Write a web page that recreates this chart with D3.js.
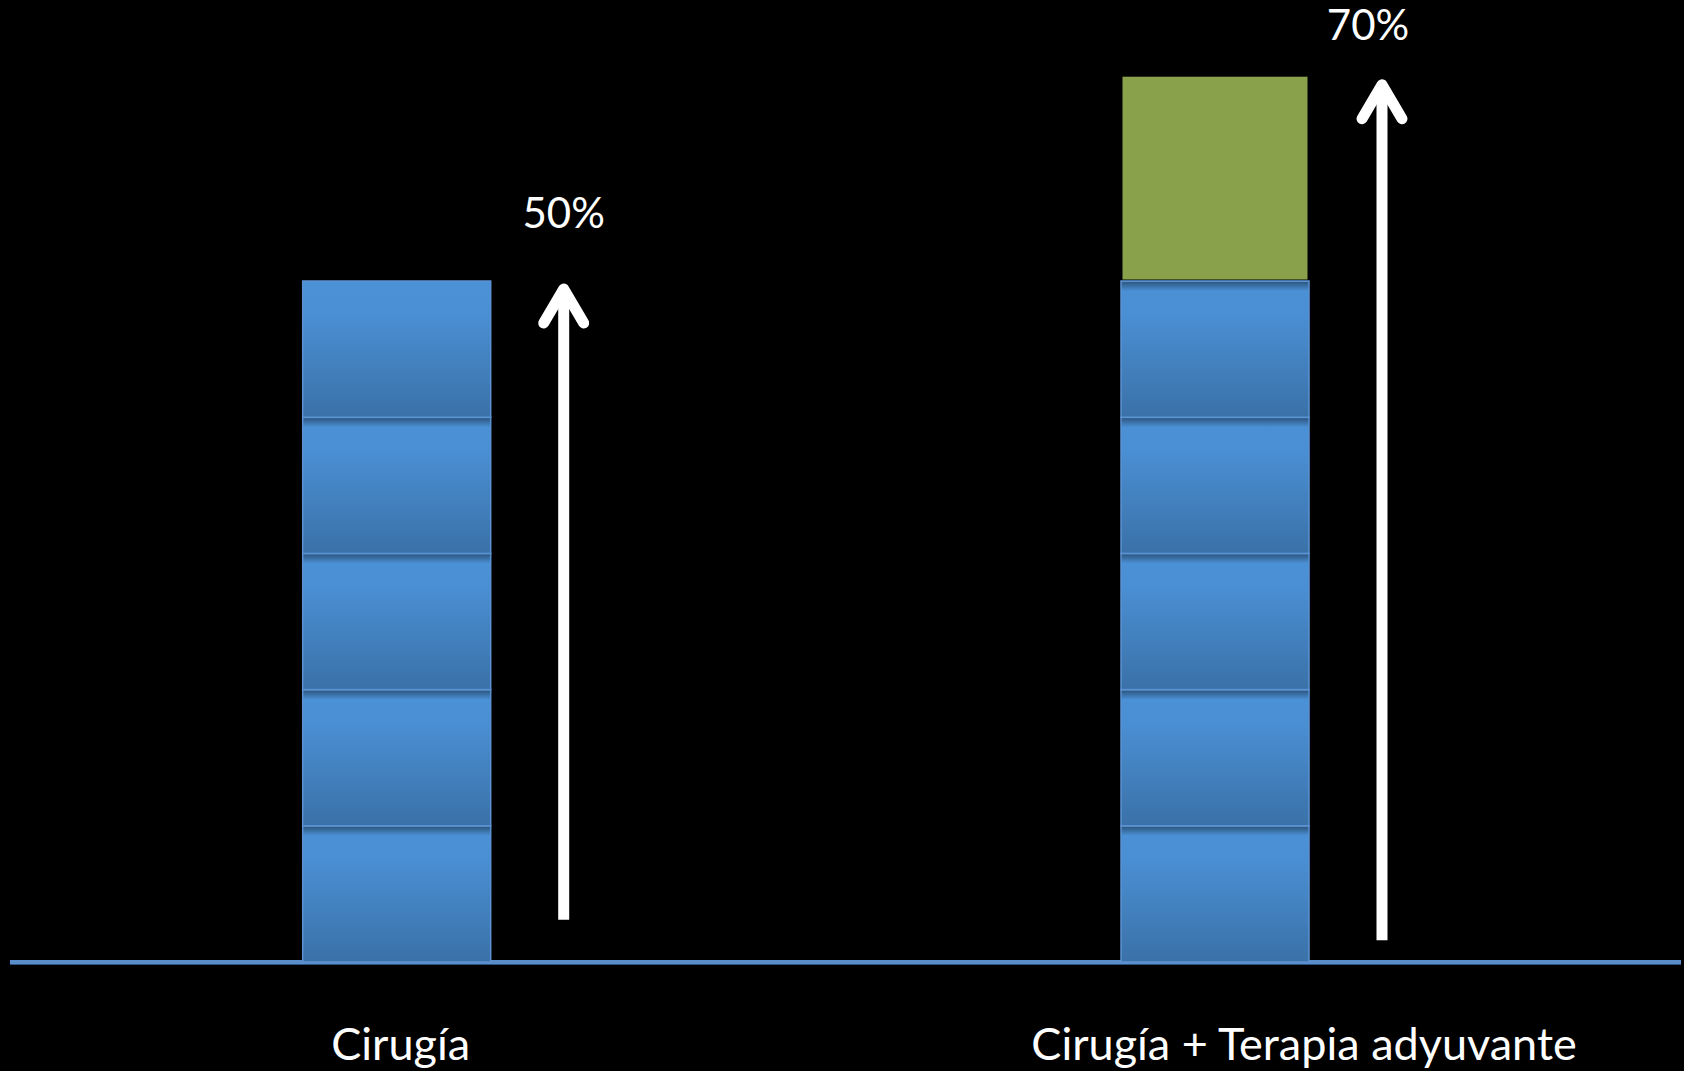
<!DOCTYPE html>
<html>
<head>
<meta charset="utf-8">
<script src="https://cdn.jsdelivr.net/npm/d3@7"></script>
<style>
  html, body { margin: 0; padding: 0; background: #000; }
  svg { display: block; }
  text { font-family: Lato, "Open Sans", sans-serif; fill: #fff; }
</style>
</head>
<body>
<svg id="chart" width="1684" height="1071"></svg>
<script>
// ---- data ----
const categories = ["Cirugía", "Cirugía + Terapia adyuvante"];
const segmentKeys = ["s1", "s2", "s3", "s4", "s5", "extra"];
const blueSegments = [
  [10, 10, 10, 10, 10],   // Cirugía
  [10, 10, 10, 10, 10]    // Cirugía + Terapia adyuvante
];
const extraSegment = [0, 15];          // green block (adjuvant gain, as drawn)
const totalLabels = ["50%", "70%"];
const arrowStart = [3.1, 1.6];         // where each arrow shaft begins (value units)

// ---- layout ----
const W = 1684, H = 1071;
const svg = d3.select("#chart");
svg.append("rect").attr("width", W).attr("height", H).attr("fill", "#000");

const x = d3.scalePoint().domain(categories).range([396.7, 1215]);
const barW = 188;
const y = d3.scaleLinear().domain([0, 50]).range([962, 281]);

const table = categories.map((c, i) => {
  const row = { cat: c };
  blueSegments[i].forEach((v, j) => row[segmentKeys[j]] = v);
  row.extra = extraSegment[i];
  return row;
});
const stacked = d3.stack().keys(segmentKeys)(table);

// gradients
const defs = svg.append("defs");
const g1 = defs.append("linearGradient").attr("id", "blueGrad")
  .attr("x1", 0).attr("y1", 0).attr("x2", 0).attr("y2", 1);
g1.append("stop").attr("offset", "0%").attr("stop-color", "#4b91d6");
g1.append("stop").attr("offset", "25%").attr("stop-color", "#4a8fd3");
g1.append("stop").attr("offset", "100%").attr("stop-color", "#3a71a8");
const sh = defs.append("linearGradient").attr("id", "shadowGrad")
  .attr("x1", 0).attr("y1", 0).attr("x2", 0).attr("y2", 1);
sh.append("stop").attr("offset", "0%").attr("stop-color", "#000").attr("stop-opacity", 0.4);
sh.append("stop").attr("offset", "100%").attr("stop-color", "#000").attr("stop-opacity", 0);

// baseline
svg.append("line")
  .attr("x1", 10).attr("x2", 1681).attr("y1", y(0)).attr("y2", y(0))
  .attr("stroke", "#5a8ecb").attr("stroke-width", 4);
svg.append("line")
  .attr("x1", 10).attr("x2", 1681).attr("y1", y(0) + 2.5).attr("y2", y(0) + 2.5)
  .attr("stroke", "#2f5680").attr("stroke-width", 1);

// segments
stacked.forEach((layer, li) => {
  const isExtra = layer.key === "extra";
  layer.forEach((d, ci) => {
    const h = y(d[0]) - y(d[1]);
    if (h <= 0) return;
    const cx = x(categories[ci]);
    if (isExtra) {
      svg.append("rect")
        .attr("x", cx - barW / 2 + 1.5).attr("y", y(d[1]))
        .attr("width", barW - 3).attr("height", h - 1.5)
        .attr("fill", "#8aa14c");
    } else {
      svg.append("rect")
        .attr("x", cx - barW / 2).attr("y", y(d[1]))
        .attr("width", barW).attr("height", h)
        .attr("fill", "url(#blueGrad)")
        .attr("stroke", "#5c92d2").attr("stroke-width", 1.5);
      // shadow cast by block above
      const above = stacked.slice(li + 1).some(l => (l[ci][1] - l[ci][0]) > 0);
      if (above) {
        svg.append("rect")
          .attr("x", cx - barW / 2 + 0.75).attr("y", y(d[1]) + 1)
          .attr("width", barW - 1.5).attr("height", 9)
          .attr("fill", "url(#shadowGrad)");
      }
    }
  });
});

// arrows
const arrowDX = 167;
table.forEach((row, i) => {
  const total = segmentKeys.reduce((s, k) => s + row[k], 0);
  const ax = x(categories[i]) + arrowDX;
  const tipY = y(total) + 1;
  const g = svg.append("g").attr("stroke", "#fff").attr("fill", "none");
  g.append("line")
    .attr("x1", ax).attr("x2", ax)
    .attr("y1", y(arrowStart[i])).attr("y2", tipY + 8)
    .attr("stroke-width", 11).attr("stroke-linecap", "butt");
  g.append("path")
    .attr("d", `M${ax - 20},${tipY + 41} L${ax},${tipY + 7} L${ax + 20},${tipY + 41}`)
    .attr("stroke-width", 11).attr("stroke-linecap", "round").attr("stroke-linejoin", "round");
  const lblDX = [0, -14][i];
  const lblDY = [-54, -38][i];
  svg.append("text")
    .attr("x", ax + lblDX).attr("y", tipY + lblDY)
    .attr("text-anchor", "middle")
    .attr("font-size", 42)
    .text(totalLabels[i]);
});

// category labels
const labelDX = [4, 89];
categories.forEach((c, i) => {
  svg.append("text")
    .attr("x", x(c) + labelDX[i]).attr("y", 1060)
    .attr("text-anchor", "middle")
    .attr("font-size", 45)
    .text(c);
});
</script>
</body>
</html>
